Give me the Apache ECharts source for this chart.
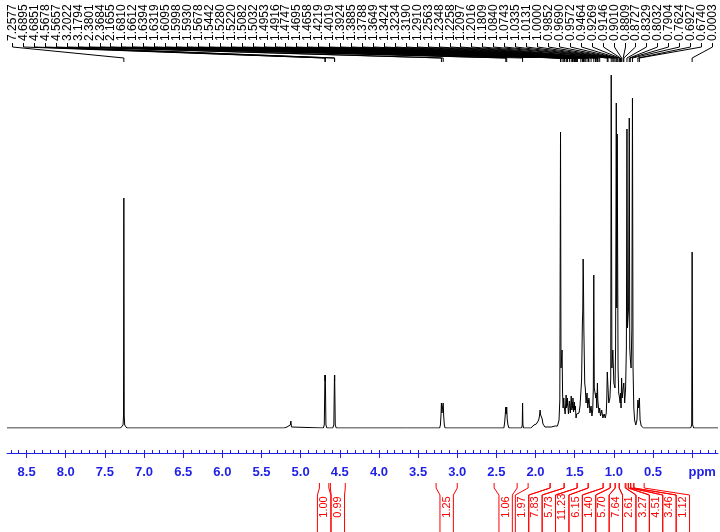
<!DOCTYPE html>
<html>
<head>
<meta charset="utf-8">
<script src="https://cdn.jsdelivr.net/npm/echarts@6/dist/echarts.min.js"></script>
<style>html,body{margin:0;padding:0;background:#fff}#c{width:720px;height:532px}</style>
</head>
<body>
<div id="c"></div>
<script>
// ---- data ----
// spectrum: [ppm, intensity]
var spectrum = [
 [8.75,0],[7.30,0],[7.28,1],[7.268,3],[7.262,12],[7.2577,230],[7.253,12],[7.247,3],[7.235,1],[7.22,0],
 [5.21,0],[5.195,2],[5.185,0.5],[5.175,1],[5.132,3],[5.125,7],[5.117,1],[5.10,0],
 [4.71,0],[4.698,3],[4.6895,53],[4.687,47],[4.6851,53],[4.677,3],[4.665,0],
 [4.59,0],[4.576,3],[4.5678,53],[4.5667,47],[4.5657,53],[4.558,3],[4.545,0],
 [3.66,0],[3.645,2],[3.63,0],
 [3.225,0],[3.215,3],[3.207,14],[3.2022,25],[3.195,15],[3.19,19],[3.1794,25],[3.173,12],[3.165,3],[3.155,0],
 [2.405,0],[2.395,5],[2.388,12],[2.3801,21],[2.374,14],[2.3684,21],[2.362,9],[2.352,3],[2.34,0],
 [2.178,0],[2.17,3],[2.1655,25],[2.161,3],[2.153,0],
 [2.06,0],[2.04,2],[2.02,3],[2.00,5],[1.99,4],[1.975,6],[1.96,8],[1.95,12],[1.942,18],[1.935,13],[1.925,15],[1.915,9],[1.905,4],[1.895,2],[1.88,1],[1.84,1],[1.80,1],[1.75,2],[1.72,2],[1.71,4],[1.70,8],[1.69,28],
 [1.6810,296],[1.675,60],[1.6612,78],[1.655,35],[1.648,20],[1.6394,30],[1.635,22],[1.6319,24],[1.622,14],[1.6095,33],[1.604,20],[1.5998,28],[1.596,22],[1.5930,30],[1.58,14],[1.5678,27],[1.556,15],[1.5442,32],[1.536,18],[1.5280,26],[1.525,20],[1.5220,30],[1.515,16],[1.5082,22],[1.506,18],[1.5032,26],[1.499,18],[1.4953,20],[1.4916,22],[1.483,10],[1.4747,14],[1.4695,16],[1.4658,15],[1.455,12],[1.445,15],[1.432,22],
 [1.4219,35],[1.412,48],[1.4019,105],[1.397,118],[1.3924,169],[1.3885,150],[1.383,98],[1.3788,96],[1.372,45],[1.3649,40],[1.355,25],[1.3424,35],[1.333,20],[1.3234,28],[1.321,25],[1.3190,30],[1.305,15],[1.2910,22],[1.28,12],[1.27,18],[1.262,40],
 [1.2563,153],[1.250,40],[1.2348,40],[1.230,30],[1.2258,35],[1.218,20],[1.2097,45],[1.205,28],[1.2016,30],[1.19,15],[1.1809,20],[1.17,12],[1.155,18],[1.14,10],[1.125,14],[1.11,10],[1.097,15],[1.09,30],
 [1.0840,56],[1.0743,40],[1.065,25],[1.05,30],[1.04,50],[1.0335,353],[1.025,60],[1.0131,78],[1.0000,45],[0.9852,40],[0.978,80],[0.9690,325],[0.963,120],[0.9572,294],[0.9464,60],[0.938,35],[0.9269,30],[0.92,25],[0.9146,35],[0.908,20],[0.9010,50],[0.893,30],[0.8809,40],[0.8727,45],[0.862,25],[0.850,40],[0.84,80],
 [0.8329,299],[0.826,100],[0.812,120],[0.8032,310],[0.797,80],[0.7904,70],[0.78,60],[0.77,100],[0.7624,330],[0.755,60],[0.745,20],[0.735,8],[0.72,3],[0.705,8],[0.6927,28],[0.685,20],[0.6740,30],[0.665,8],[0.65,2],[0.62,0],
 [0.02,0],[0.006,3],[0.0003,176],[-0.006,3],[-0.02,0],[-0.33,0]
];

// picked peak labels (ppm)
var peakLabels = [7.2577,4.6895,4.6851,4.5678,4.5657,3.2022,3.1794,2.3801,2.3684,2.1655,
 1.6810,1.6612,1.6394,1.6319,1.6095,1.5998,1.5930,1.5678,1.5442,1.5280,1.5220,1.5082,1.5032,
 1.4953,1.4916,1.4747,1.4695,1.4658,1.4219,1.4019,1.3924,1.3885,1.3788,1.3649,1.3424,1.3234,
 1.3190,1.2910,1.2563,1.2348,1.2258,1.2097,1.2016,1.1809,1.0840,1.0743,1.0335,1.0131,1.0000,
 0.9852,0.9690,0.9572,0.9464,0.9269,0.9146,0.9010,0.8809,0.8727,0.8329,0.8032,0.7904,0.7624,
 0.6927,0.6740,0.0003];

// integrals (ppm ranges and values)
var integralFrom = [4.76,4.62,3.27,2.529,2.095,1.814,1.635,1.469,1.328,1.137,1.047,0.983,0.932,0.845,0.815,0.785,0.745];
var integralTo   = [4.64,4.43,3.00,2.235,1.814,1.635,1.469,1.328,1.137,1.047,0.983,0.932,0.856,0.815,0.785,0.745,0.613];
var integralValue= ['1.00','0.99','1.25','1.06','1.97','7.83','5.73','11.23','6.15','1.40','5.70','7.64','2.61','3.27','4.51','3.46','1.12'];

// axis ticks
var majorTicks = [0,0.5,1,1.5,2,2.5,3,3.5,4,4.5,5,5.5,6,6.5,7,7.5,8,8.5];
var minorTicks = [];
for (var t = -3; t <= 87; t++) minorTicks.push(t / 10);

// ---- chart ----
var BLUE = '#1f1fe6';
var RED = '#ff0000';
var chart = echarts.init(document.getElementById('c'), null, {renderer: 'canvas'});

var integralData = integralFrom.map(function (f, i) { return [f, integralTo[i], i]; });

function integralLayout(api) {
  var gap = 13.4;
  var cs = integralFrom.map(function (f, i) {
    return (api.coord([f, 0])[0] + api.coord([integralTo[i], 0])[0]) / 2;
  });
  var groups = cs.map(function (c, i) { return {start: i, n: 1, sum: c}; });
  var merged = true;
  while (merged) {
    merged = false;
    for (var k = 0; k < groups.length - 1; k++) {
      var a = groups[k], b = groups[k + 1];
      var aR = a.sum / a.n + (a.n - 1) * gap / 2;
      var bL = b.sum / b.n - (b.n - 1) * gap / 2;
      if (bL - aR < gap - 0.01) {
        a.sum += b.sum; a.n += b.n; groups.splice(k + 1, 1); merged = true; break;
      }
    }
  }
  var pos = [];
  groups.forEach(function (g) {
    var c = g.sum / g.n;
    for (var j = 0; j < g.n; j++) pos[g.start + j] = c + (j - (g.n - 1) / 2) * gap;
  });
  return pos;
}

var FONT = '"Liberation Sans", Arial, sans-serif';

chart.setOption({
  animation: false,
  backgroundColor: '#fff',
  grid: {left: 7, right: 2, top: 75, bottom: 104},
  xAxis: [{
    type: 'value', inverse: true, min: -0.33, max: 8.75, position: 'bottom', offset: 25,
    splitLine: {show: false},
    axisLine: {show: true, onZero: false, lineStyle: {color: BLUE, width: 1}},
    axisTick: {show: true, customValues: majorTicks, length: 5, inside: false, lineStyle: {color: BLUE}},
    axisLabel: {
      customValues: majorTicks, margin: 13, color: BLUE, fontWeight: 'bold', fontSize: 13, fontFamily: FONT,
      formatter: function (v) { return v === 0 ? '{p|ppm}' : v.toFixed(1); },
      rich: {p: {color: BLUE, fontWeight: 'bold', fontSize: 13, fontFamily: FONT, padding: [0, 0, 0, 20]}}
    }
  }, {
    type: 'value', inverse: true, min: -0.33, max: 8.75, position: 'bottom', offset: 25,
    splitLine: {show: false},
    axisLine: {show: false, onZero: false},
    axisTick: {show: true, customValues: minorTicks, length: 3, inside: true, lineStyle: {color: BLUE}},
    axisLabel: {show: false}
  }],
  yAxis: {type: 'value', min: 0, max: 353, show: false},
  series: [{
    type: 'line', data: spectrum, showSymbol: false, symbol: 'none', silent: true,
    lineStyle: {color: '#000', width: 1}, clip: true
  }, {
    type: 'custom', silent: true, clip: false,
    data: peakLabels.map(function (p) { return [p, 0]; }),
    renderItem: function (params, api) {
      var i = params.dataIndex, n = peakLabels.length;
      var left = 12, right = api.getWidth() - 8;
      var lx = Math.round(left + i * (right - left) / (n - 1)) + 0.5;
      var px = api.coord([api.value(0), 0])[0];
      return {type: 'group', children: [{
        type: 'text', x: lx, y: 41, rotation: Math.PI / 2,
        style: {text: peakLabels[i].toFixed(4), fill: '#000', font: '12px ' + FONT, align: 'left', verticalAlign: 'middle'}
      }, {
        type: 'polyline', shape: {points: [[lx, 43], [lx, 47], [px, 58], [px, 62]]},
        style: {stroke: '#000', lineWidth: 1, fill: null}
      }]};
    }
  }, {
    type: 'custom', silent: true, clip: false,
    data: integralData,
    renderItem: function (params, api) {
      var i = params.dataIndex;
      var pos = integralLayout(api);
      var lx = pos[i];
      var x1 = api.coord([integralFrom[i], 0])[0];
      var x2 = api.coord([integralTo[i], 0])[0];
      var h = api.getHeight();
      var w = 6.7;
      return {type: 'group', children: [{
        type: 'polyline', shape: {points: [[x1, 483], [x1, 488], [lx - w, 495], [lx - w, h]]},
        style: {stroke: RED, lineWidth: 1, fill: null}
      }, {
        type: 'polyline', shape: {points: [[x2, 483], [x2, 488], [lx + w, 495], [lx + w, h]]},
        style: {stroke: RED, lineWidth: 1, fill: null}
      }, {
        type: 'text', x: lx, y: 507, rotation: Math.PI / 2,
        style: {text: integralValue[i], fill: RED, font: '11px ' + FONT, align: 'center', verticalAlign: 'middle'}
      }]};
    }
  }]
});
</script>
</body>
</html>
